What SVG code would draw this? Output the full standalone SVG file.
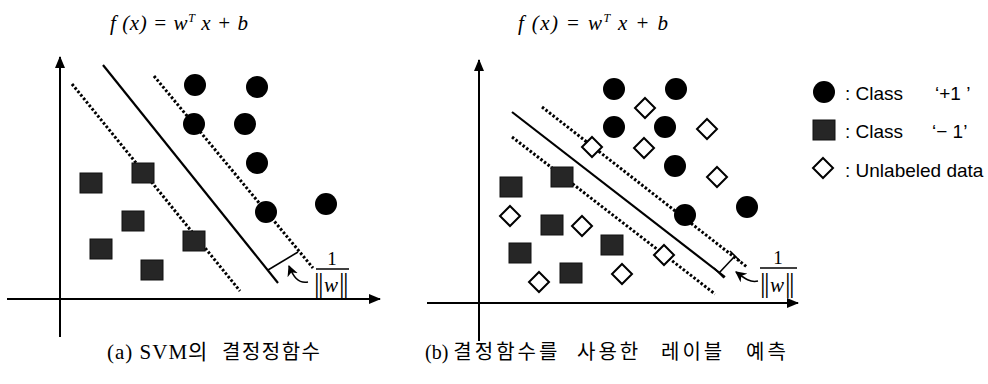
<svg xmlns="http://www.w3.org/2000/svg" width="988" height="384" viewBox="0 0 988 384">
<style>
.axis{stroke:#000;stroke-width:2;fill:none}
.sep{stroke:#000;stroke-width:2.2;fill:none}
.dot{stroke:#000;stroke-width:3;fill:none;stroke-dasharray:2.5 2}
.bar{stroke:#000;stroke-width:1.6;fill:none}
.pos{fill:#000}
.neg{fill:#262626;stroke:#111;stroke-width:1}
.unl{fill:#fff;stroke:#000;stroke-width:2}
.eq{font-family:"Liberation Serif",serif;font-style:italic;font-size:21px;fill:#000}
.cap{font-family:"Liberation Serif","Noto Sans CJK KR",serif;font-size:20px;fill:#000}
.ko{letter-spacing:3px}
.leg{font-family:"Liberation Sans",Arial,sans-serif;font-size:19px;fill:#000}
.frac{font-family:"Liberation Serif",serif;font-size:19px;fill:#000}
.nrm{font-family:"Liberation Serif",serif;font-size:28px;fill:#000}
.w{font-style:italic;font-size:21px}
</style>
<defs>
<marker id="ah" viewBox="0 0 12 10" refX="11" refY="5" markerWidth="12" markerHeight="10" markerUnits="userSpaceOnUse" orient="auto">
<path d="M0,0 L12,5 L0,10 Z" fill="#000"/>
</marker>
<marker id="ch" viewBox="0 0 10 10" refX="9" refY="5" markerWidth="11" markerHeight="11" markerUnits="userSpaceOnUse" orient="auto">
<path d="M0,0 L10,5 L0,10 L3,5 Z" fill="#000"/>
</marker>
<rect id="sq" x="-11" y="-10" width="22" height="20"/>
<path id="dm" d="M0,-10 L10,0 L0,10 L-10,0 Z"/>
</defs>

<!-- Panel (a) -->
<g id="panel-a">
<g id="a-title"><text class="eq" x="110" y="30" textLength="138" lengthAdjust="spacing">f (x) = w<tspan dy="-8" font-size="12">T</tspan><tspan dy="8"> x + b</tspan></text></g>
<g id="a-connectors">
<line class="axis" x1="60" y1="337" x2="60" y2="57" marker-end="url(#ah)"/>
<line class="axis" x1="7" y1="299" x2="380" y2="299" marker-end="url(#ah)"/>
<line class="sep" x1="103" y1="65" x2="278" y2="283"/>
<line class="dot" x1="72" y1="84" x2="240" y2="291"/>
<line class="dot" x1="154" y1="76" x2="313" y2="268"/>
<line class="bar" x1="268" y1="270" x2="298" y2="252"/>
<path class="bar" d="M308,282 C298,284 293,276 289,266" marker-end="url(#ch)"/>
</g>
<g id="a-pos">
<circle class="pos" cx="195" cy="85" r="11"/>
<circle class="pos" cx="257" cy="87" r="11"/>
<circle class="pos" cx="194" cy="124" r="11"/>
<circle class="pos" cx="245" cy="124" r="11"/>
<circle class="pos" cx="257" cy="163" r="11"/>
<circle class="pos" cx="266" cy="212" r="11"/>
<circle class="pos" cx="326" cy="204" r="11"/>
</g>
<g id="a-neg">
<use class="neg" href="#sq" x="91" y="183"/>
<use class="neg" href="#sq" x="143" y="173"/>
<use class="neg" href="#sq" x="133" y="221"/>
<use class="neg" href="#sq" x="101" y="249"/>
<use class="neg" href="#sq" x="194" y="241"/>
<use class="neg" href="#sq" x="152" y="270"/>
</g>
<g id="a-margin">
<text class="frac" x="332" y="265" text-anchor="middle">1</text>
<line x1="316" y1="269" x2="349" y2="269" stroke="#000" stroke-width="1.5"/>
<text class="nrm" y="292"><tspan x="314">|</tspan><tspan x="318">|</tspan><tspan x="324" class="w">w</tspan><tspan x="339">|</tspan><tspan x="343">|</tspan></text>
</g>
<g id="a-caption"><text class="cap" y="359"><tspan x="107" font-size="21" letter-spacing="1">(a) SVM의 </tspan><tspan x="222" letter-spacing="1.5">결정정함수</tspan></text></g>
</g>

<!-- Panel (b) -->
<g id="panel-b">
<g id="b-title"><text class="eq" x="518" y="30" textLength="150" lengthAdjust="spacing">f (x) = w<tspan dy="-8" font-size="12">T</tspan><tspan dy="8"> x + b</tspan></text></g>
<g id="b-connectors">
<line class="axis" x1="479" y1="341" x2="479" y2="60" marker-end="url(#ah)"/>
<line class="axis" x1="427" y1="303" x2="798" y2="303" marker-end="url(#ah)"/>
<line class="sep" x1="512" y1="112" x2="725" y2="277"/>
<line class="dot" x1="542" y1="107" x2="747" y2="267"/>
<line class="dot" x1="512" y1="137" x2="715" y2="294"/>
<line class="bar" x1="719" y1="273" x2="735" y2="256"/>
<line class="bar" x1="714" y1="268" x2="724" y2="278"/>
<line class="bar" x1="730" y1="251" x2="740" y2="261"/>
<path class="bar" d="M758,281 C750,283 744,278 736,272" marker-end="url(#ch)"/>
</g>
<g id="b-pos">
<circle class="pos" cx="614" cy="89" r="11"/>
<circle class="pos" cx="676" cy="89" r="11"/>
<circle class="pos" cx="614" cy="127" r="11"/>
<circle class="pos" cx="665" cy="127" r="11"/>
<circle class="pos" cx="675" cy="166" r="11"/>
<circle class="pos" cx="685" cy="215" r="11"/>
<circle class="pos" cx="747" cy="207" r="11"/>
</g>
<g id="b-neg">
<use class="neg" href="#sq" x="511" y="187"/>
<use class="neg" href="#sq" x="562" y="177"/>
<use class="neg" href="#sq" x="552" y="225"/>
<use class="neg" href="#sq" x="612" y="245"/>
<use class="neg" href="#sq" x="520" y="253"/>
<use class="neg" href="#sq" x="571" y="273"/>
</g>
<g id="b-unlabeled">
<use class="unl" href="#dm" x="645" y="108"/>
<use class="unl" href="#dm" x="707" y="129"/>
<use class="unl" href="#dm" x="644" y="148"/>
<use class="unl" href="#dm" x="592" y="147"/>
<use class="unl" href="#dm" x="717" y="177"/>
<use class="unl" href="#dm" x="510" y="216"/>
<use class="unl" href="#dm" x="582" y="226"/>
<use class="unl" href="#dm" x="664" y="255"/>
<use class="unl" href="#dm" x="622" y="274"/>
<use class="unl" href="#dm" x="539" y="282"/>
</g>
<g id="b-margin">
<text class="frac" x="778" y="264" text-anchor="middle">1</text>
<line x1="760" y1="268" x2="797" y2="268" stroke="#000" stroke-width="1.5"/>
<text class="nrm" y="292"><tspan x="760">|</tspan><tspan x="764">|</tspan><tspan x="770" class="w">w</tspan><tspan x="785">|</tspan><tspan x="789">|</tspan></text>
</g>
<g id="b-caption"><text class="cap" y="359"><tspan x="425">(b) </tspan><tspan class="ko">결정함수를 </tspan><tspan x="577" class="ko">사용한 </tspan><tspan x="661" class="ko">레이블 </tspan><tspan x="746" class="ko">예측</tspan></text></g>
</g>

<!-- Legend -->
<g id="legend">
<g id="legend-pos">
<circle class="pos" cx="824" cy="92" r="11"/>
<text class="leg" x="845" y="100">: Class</text>
<text class="leg" x="935" y="100">‘+1 ’</text>
</g>
<g id="legend-neg">
<use class="neg" href="#sq" x="824" y="130"/>
<text class="leg" x="845" y="138">: Class</text>
<text class="leg" x="932" y="138">‘− 1’</text>
</g>
<g id="legend-unl">
<use class="unl" href="#dm" x="823" y="168"/>
<text class="leg" x="845" y="177">: Unlabeled data</text>
</g>
</g>
</svg>
